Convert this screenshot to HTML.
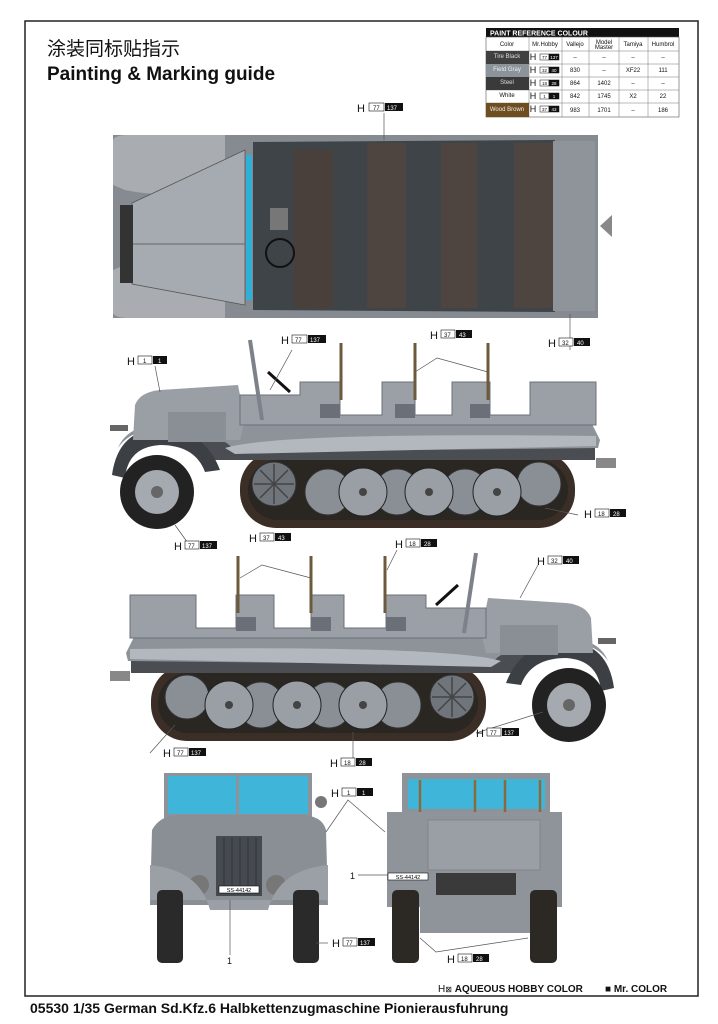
<!DOCTYPE html>
<html><head><meta charset="utf-8"><style>
html,body{margin:0;padding:0;background:#fff;}
body{width:718px;height:1024px;position:relative;overflow:hidden;font-family:"Liberation Sans",Arial,sans-serif;}
svg{position:absolute;left:0;top:0;}
</style></head><body>
<svg width="718" height="1024" viewBox="0 0 718 1024" font-family="Liberation Sans, Arial, sans-serif">
<defs>
<g id="side">
  <!-- track -->
  <rect x="240" y="452" width="335" height="76" rx="36" fill="#3a2e26"/>
  <rect x="248" y="460" width="320" height="60" rx="30" fill="#2a2622"/>
  <!-- dark lower chassis -->
  <rect x="200" y="440" width="395" height="20" fill="#4a4e53"/>
  <!-- front mudguard dark arc -->
  <path d="M112 475 Q118 430 160 428 Q205 430 220 470 L205 472 Q195 445 160 445 Q128 447 125 478 Z" fill="#3c4045"/>
  <!-- body lower / fender -->
  <path d="M118 448 Q125 430 150 425 L240 420 L590 420 L600 440 L598 448 L235 452 Q225 432 160 428 Q130 430 118 448 Z" fill="#8e939a"/>
  <!-- hood -->
  <path d="M133 440 L135 405 Q140 392 160 390 L238 385 L245 420 L240 440 Z" fill="#9a9fa6"/>
  <rect x="168" y="412" width="58" height="30" fill="#8a8f96"/>
  <!-- cab/rear body -->
  <path d="M240 420 L240 395 L300 395 L300 382 L340 382 L340 415 L382 415 L382 382 L415 382 L415 415 L452 415 L452 382 L490 382 L490 415 L530 415 L530 382 L596 382 L596 425 L240 425 Z" fill="#9ba0a7" stroke="#6b7078" stroke-width="1"/>
  <rect x="320" y="404" width="20" height="14" fill="#6b7078"/>
  <rect x="395" y="404" width="20" height="14" fill="#6b7078"/>
  <rect x="470" y="404" width="20" height="14" fill="#6b7078"/>
  <path d="M225 448 Q280 432 596 436 L596 446 L235 454 Z" fill="#b3b8be"/>
  <!-- windshield post, wheel -->
  <line x1="250" y1="340" x2="262" y2="420" stroke="#7d828a" stroke-width="4"/>
  <line x1="268" y1="372" x2="290" y2="392" stroke="#111" stroke-width="3"/>
  <!-- rifles -->
  <line x1="341" y1="343" x2="341" y2="400" stroke="#6d5a3c" stroke-width="3"/>
  <line x1="415" y1="343" x2="415" y2="400" stroke="#6d5a3c" stroke-width="3"/>
  <line x1="488" y1="343" x2="488" y2="400" stroke="#6d5a3c" stroke-width="3"/>
  <!-- tow hitch -->
  <rect x="596" y="458" width="20" height="10" fill="#888"/>
  <rect x="110" y="425" width="18" height="6" fill="#666"/>
  <!-- front wheel -->
  <circle cx="157" cy="492" r="37" fill="#222"/>
  <circle cx="157" cy="492" r="22" fill="#a5aab0"/>
  <circle cx="157" cy="492" r="6" fill="#666"/>
  <!-- road wheels -->
  <circle cx="274" cy="484" r="22" fill="#70757c" stroke="#333"/>
  <g stroke="#444" stroke-width="1.5"><line x1="274" y1="464" x2="274" y2="504"/><line x1="254" y1="484" x2="294" y2="484"/><line x1="260" y1="470" x2="288" y2="498"/><line x1="288" y1="470" x2="260" y2="498"/></g>
  <circle cx="328" cy="492" r="23" fill="#8a8f95" stroke="#333"/>
  <circle cx="397" cy="492" r="23" fill="#8a8f95" stroke="#333"/>
  <circle cx="465" cy="492" r="23" fill="#8a8f95" stroke="#333"/>
  <circle cx="539" cy="484" r="22" fill="#8a8f95" stroke="#333"/>
  <circle cx="363" cy="492" r="24" fill="#9a9fa5" stroke="#222"/>
  <circle cx="429" cy="492" r="24" fill="#9a9fa5" stroke="#222"/>
  <circle cx="497" cy="492" r="24" fill="#9a9fa5" stroke="#222"/>
  <circle cx="363" cy="492" r="4" fill="#444"/>
  <circle cx="429" cy="492" r="4" fill="#444"/>
  <circle cx="497" cy="492" r="4" fill="#444"/>
</g>
</defs>

<rect x="25" y="21" width="673" height="975" fill="none" stroke="#222" stroke-width="1.5"/>

<text x="47" y="55" font-size="19" font-family="Liberation Sans, Noto Sans CJK SC, sans-serif" fill="#111">涂装同标贴指示</text>
<text x="47" y="80" font-size="19" font-weight="bold" fill="#111">Painting &amp; Marking guide</text>

<!-- paint table -->
<g font-size="6" text-anchor="middle" fill="#111">
<rect x="486" y="28" width="193" height="9" fill="#111"/>
<text x="490" y="35.5" font-size="7" font-weight="bold" fill="#fff" text-anchor="start">PAINT  REFERENCE COLOUR</text>
<rect x="486" y="37" width="193" height="80" fill="#fff" stroke="#555" stroke-width="0.6"/>
<g stroke="#777" stroke-width="0.5">
<line x1="529" y1="37" x2="529" y2="117"/><line x1="562" y1="37" x2="562" y2="117"/><line x1="589" y1="37" x2="589" y2="117"/><line x1="619" y1="37" x2="619" y2="117"/><line x1="648" y1="37" x2="648" y2="117"/>
<line x1="486" y1="51" x2="679" y2="51"/><line x1="486" y1="64" x2="679" y2="64"/><line x1="486" y1="77" x2="679" y2="77"/><line x1="486" y1="90" x2="679" y2="90"/><line x1="486" y1="103" x2="679" y2="103"/>
</g>
<rect x="486" y="51" width="43" height="13" fill="#404040"/>
<rect x="486" y="64" width="43" height="13" fill="#8d939b"/>
<rect x="486" y="77" width="43" height="13" fill="#3a3a3a"/>
<rect x="486" y="103" width="43" height="14" fill="#6e4e1e"/>
<text x="507" y="46">Color</text><text x="545" y="46">Mr.Hobby</text><text x="575" y="46">Vallejo</text><text x="604" y="44">Model</text><text x="604" y="49">Master</text><text x="633" y="46">Tamiya</text><text x="663" y="46">Humbrol</text>
<text x="507" y="58" fill="#ddd">Tire Black</text><text x="507" y="71" fill="#eee">Field Gray</text><text x="507" y="84" fill="#ddd">Steel</text><text x="507" y="97">White</text><text x="507" y="111" fill="#eee">Wood Brown</text>
<text x="533" y="60" font-size="9">H</text><text x="533" y="73" font-size="9">H</text><text x="533" y="86" font-size="9">H</text><text x="533" y="99" font-size="9">H</text><text x="533" y="112" font-size="9">H</text>
<g stroke="#111" stroke-width="0.5">
<rect x="540" y="54" width="9" height="6" fill="#fff"/><rect x="549" y="54" width="10" height="6" fill="#111"/>
<rect x="540" y="67" width="9" height="6" fill="#fff"/><rect x="549" y="67" width="10" height="6" fill="#111"/>
<rect x="540" y="80" width="9" height="6" fill="#fff"/><rect x="549" y="80" width="10" height="6" fill="#111"/>
<rect x="540" y="93" width="9" height="6" fill="#fff"/><rect x="549" y="93" width="10" height="6" fill="#111"/>
<rect x="540" y="106" width="9" height="6" fill="#fff"/><rect x="549" y="106" width="10" height="6" fill="#111"/>
</g>
<g font-size="4.5">
<text x="544.5" y="59">77</text><text x="554" y="59" fill="#fff">137</text>
<text x="544.5" y="72">32</text><text x="554" y="72" fill="#fff">40</text>
<text x="544.5" y="85">18</text><text x="554" y="85" fill="#fff">28</text>
<text x="544.5" y="98">1</text><text x="554" y="98" fill="#fff">1</text>
<text x="544.5" y="111">37</text><text x="554" y="111" fill="#fff">43</text>
</g>
<text x="575" y="59">–</text><text x="604" y="59">–</text><text x="633" y="59">–</text><text x="663" y="59">–</text>
<text x="575" y="72">830</text><text x="604" y="72">–</text><text x="633" y="72">XF22</text><text x="663" y="72">111</text>
<text x="575" y="85">864</text><text x="604" y="85">1402</text><text x="633" y="85">–</text><text x="663" y="85">–</text>
<text x="575" y="98">842</text><text x="604" y="98">1745</text><text x="633" y="98">X2</text><text x="663" y="98">22</text>
<text x="575" y="112">983</text><text x="604" y="112">1701</text><text x="633" y="112">–</text><text x="663" y="112">186</text>
</g>

<!-- TOP VIEW -->
<rect x="113" y="135" width="485" height="183" fill="#868b92"/>
<path d="M113 140 Q115 135 130 135 L225 135 L225 185 Q170 200 125 190 L113 185 Z" fill="#a9adb2"/>
<path d="M113 313 Q115 318 130 318 L225 318 L225 268 Q170 254 125 265 L113 270 Z" fill="#a9adb2"/>
<path d="M132 203 L245 150 L245 305 L132 284 Z" fill="#a6abb1" stroke="#555" stroke-width="0.8"/>
<line x1="132" y1="244" x2="245" y2="244" stroke="#666" stroke-width="1"/>
<rect x="120" y="205" width="13" height="78" fill="#333"/>
<rect x="246" y="155" width="6" height="145" fill="#2fb0d8"/>
<path d="M253 142 L555 140 L555 312 L253 310 Z" fill="#3e4448"/>
<rect x="294" y="150" width="39" height="158" fill="#4a403b"/>
<rect x="367" y="143" width="39" height="165" fill="#4e4440"/>
<rect x="441" y="143" width="36" height="165" fill="#4e4440"/>
<rect x="514" y="143" width="39" height="165" fill="#4e4440"/>
<rect x="553" y="141" width="42" height="170" fill="#8f949a"/>
<circle cx="280" cy="253" r="14" fill="none" stroke="#111" stroke-width="2"/>
<rect x="270" y="208" width="18" height="22" fill="#777"/>
<path d="M600 226 L612 215 L612 237 Z" fill="#888"/>

<!-- side views -->
<use href="#side"/>
<use href="#side" transform="translate(726,213) scale(-1,1)"/>

<!-- FRONT VIEW -->
<rect x="164" y="773" width="148" height="55" fill="#8e939a"/>
<rect x="168" y="776" width="68" height="38" fill="#3fb6d9"/>
<rect x="239" y="776" width="69" height="38" fill="#3fb6d9"/>
<path d="M152 830 Q160 815 180 815 L300 815 Q322 815 326 830 L328 905 L150 905 Z" fill="#8a8f96"/>
<rect x="216" y="836" width="46" height="60" fill="#444a4f"/>
<g stroke="#333" stroke-width="1"><line x1="224" y1="838" x2="224" y2="892"/><line x1="232" y1="838" x2="232" y2="892"/><line x1="240" y1="838" x2="240" y2="892"/><line x1="248" y1="838" x2="248" y2="892"/><line x1="256" y1="838" x2="256" y2="892"/></g>
<circle cx="199" cy="885" r="10" fill="#777"/><circle cx="276" cy="885" r="10" fill="#777"/>
<rect x="219" y="886" width="40" height="7" fill="#fff" stroke="#111" stroke-width="0.6"/>
<text x="239" y="892" font-size="5.5" text-anchor="middle">SS-44142</text>
<path d="M150 865 Q200 870 210 910 L268 910 Q278 870 328 865 L328 900 L150 900 Z" fill="#9ba0a6"/>
<rect x="157" y="890" width="26" height="73" rx="5" fill="#2a2a2a"/>
<rect x="293" y="890" width="26" height="73" rx="5" fill="#2a2a2a"/>
<circle cx="321" cy="802" r="6" fill="#777"/>

<!-- REAR VIEW -->
<rect x="402" y="773" width="148" height="40" fill="#8e939a"/>
<rect x="408" y="779" width="137" height="30" fill="#3fb6d9"/>
<g stroke="#8a6a3a" stroke-width="2.5"><line x1="420" y1="780" x2="420" y2="812"/><line x1="475" y1="780" x2="475" y2="812"/><line x1="505" y1="780" x2="505" y2="812"/><line x1="540" y1="780" x2="540" y2="812"/></g>
<rect x="387" y="812" width="175" height="95" fill="#8f949b"/>
<rect x="428" y="820" width="112" height="50" fill="#9a9fa6" stroke="#777" stroke-width="0.6"/>
<rect x="436" y="873" width="80" height="22" fill="#3a3a3a"/>
<rect x="388" y="873" width="40" height="7" fill="#fff" stroke="#111" stroke-width="0.6"/>
<text x="408" y="879" font-size="5.5" text-anchor="middle">SS-44142</text>
<rect x="420" y="905" width="115" height="28" fill="#8f949b"/>
<rect x="392" y="890" width="27" height="73" rx="5" fill="#2c2823"/>
<rect x="530" y="890" width="27" height="73" rx="5" fill="#2c2823"/>

<!-- leader lines -->
<g stroke="#555" stroke-width="0.7" fill="none">
<line x1="384" y1="113" x2="384" y2="140"/>
<line x1="570" y1="350" x2="570" y2="314"/>
<line x1="155" y1="366" x2="160" y2="392"/>
<line x1="292" y1="350" x2="270" y2="390"/>
<polyline points="415,372 437,358 488,372"/>
<line x1="578" y1="515" x2="545" y2="508"/>
<line x1="190" y1="546" x2="175" y2="525"/>
<polyline points="240,578 262,565 311,578"/>
<line x1="397" y1="550" x2="387" y2="570"/>
<line x1="538" y1="565" x2="520" y2="598"/>
<line x1="150" y1="753" x2="175" y2="725"/>
<line x1="353" y1="762" x2="353" y2="732"/>
<line x1="476" y1="733" x2="543" y2="712"/>
<polyline points="326,832 348,800 385,832"/>
<line x1="358" y1="875" x2="388" y2="875"/>
<line x1="230" y1="955" x2="230" y2="900"/>
<line x1="328" y1="943" x2="316" y2="943"/>
<polyline points="420,938 436,952 528,938"/>
</g>

<g font-size="11" fill="#111">
<text x="357" y="112">H</text><rect x="369" y="103" width="15" height="8" fill="#fff" stroke="#111" stroke-width="0.6"/><rect x="385" y="103" width="18" height="8" fill="#111"/>
<text x="373" y="110" font-size="6">77</text><text x="387" y="110" font-size="6" fill="#fff">137</text>

<text x="127" y="365">H</text><rect x="138" y="356" width="14" height="8" fill="#fff" stroke="#111" stroke-width="0.6"/><rect x="153" y="356" width="14" height="8" fill="#111"/>
<text x="143" y="363" font-size="6">1</text><text x="158" y="363" font-size="6" fill="#fff">1</text>

<text x="281" y="344">H</text><rect x="292" y="335" width="15" height="8" fill="#fff" stroke="#111" stroke-width="0.6"/><rect x="308" y="335" width="18" height="8" fill="#111"/>
<text x="295" y="342" font-size="6">77</text><text x="310" y="342" font-size="6" fill="#fff">137</text>

<text x="430" y="339">H</text><rect x="441" y="330" width="14" height="8" fill="#fff" stroke="#111" stroke-width="0.6"/><rect x="456" y="330" width="16" height="8" fill="#111"/>
<text x="444" y="337" font-size="6">37</text><text x="459" y="337" font-size="6" fill="#fff">43</text>

<text x="548" y="347">H</text><rect x="559" y="338" width="14" height="8" fill="#fff" stroke="#111" stroke-width="0.6"/><rect x="574" y="338" width="16" height="8" fill="#111"/>
<text x="562" y="345" font-size="6">32</text><text x="577" y="345" font-size="6" fill="#fff">40</text>

<text x="584" y="518">H</text><rect x="595" y="509" width="14" height="8" fill="#fff" stroke="#111" stroke-width="0.6"/><rect x="610" y="509" width="16" height="8" fill="#111"/>
<text x="598" y="516" font-size="6">18</text><text x="613" y="516" font-size="6" fill="#fff">28</text>

<text x="174" y="550">H</text><rect x="185" y="541" width="14" height="8" fill="#fff" stroke="#111" stroke-width="0.6"/><rect x="200" y="541" width="17" height="8" fill="#111"/>
<text x="188" y="548" font-size="6">77</text><text x="202" y="548" font-size="6" fill="#fff">137</text>

<text x="249" y="542">H</text><rect x="260" y="533" width="14" height="8" fill="#fff" stroke="#111" stroke-width="0.6"/><rect x="275" y="533" width="16" height="8" fill="#111"/>
<text x="263" y="540" font-size="6">37</text><text x="278" y="540" font-size="6" fill="#fff">43</text>

<text x="395" y="548">H</text><rect x="406" y="539" width="14" height="8" fill="#fff" stroke="#111" stroke-width="0.6"/><rect x="421" y="539" width="16" height="8" fill="#111"/>
<text x="409" y="546" font-size="6">18</text><text x="424" y="546" font-size="6" fill="#fff">28</text>

<text x="537" y="565">H</text><rect x="548" y="556" width="14" height="8" fill="#fff" stroke="#111" stroke-width="0.6"/><rect x="563" y="556" width="16" height="8" fill="#111"/>
<text x="551" y="563" font-size="6">32</text><text x="566" y="563" font-size="6" fill="#fff">40</text>

<text x="163" y="757">H</text><rect x="174" y="748" width="14" height="8" fill="#fff" stroke="#111" stroke-width="0.6"/><rect x="189" y="748" width="17" height="8" fill="#111"/>
<text x="177" y="755" font-size="6">77</text><text x="191" y="755" font-size="6" fill="#fff">137</text>

<text x="330" y="767">H</text><rect x="341" y="758" width="14" height="8" fill="#fff" stroke="#111" stroke-width="0.6"/><rect x="356" y="758" width="16" height="8" fill="#111"/>
<text x="344" y="765" font-size="6">18</text><text x="359" y="765" font-size="6" fill="#fff">28</text>

<text x="476" y="737">H</text><rect x="487" y="728" width="14" height="8" fill="#fff" stroke="#111" stroke-width="0.6"/><rect x="502" y="728" width="17" height="8" fill="#111"/>
<text x="490" y="735" font-size="6">77</text><text x="504" y="735" font-size="6" fill="#fff">137</text>

<text x="331" y="797">H</text><rect x="342" y="788" width="14" height="8" fill="#fff" stroke="#111" stroke-width="0.6"/><rect x="357" y="788" width="16" height="8" fill="#111"/>
<text x="347" y="795" font-size="6">1</text><text x="362" y="795" font-size="6" fill="#fff">1</text>

<text x="332" y="947">H</text><rect x="343" y="938" width="14" height="8" fill="#fff" stroke="#111" stroke-width="0.6"/><rect x="358" y="938" width="17" height="8" fill="#111"/>
<text x="346" y="945" font-size="6">77</text><text x="360" y="945" font-size="6" fill="#fff">137</text>

<text x="447" y="963">H</text><rect x="458" y="954" width="14" height="8" fill="#fff" stroke="#111" stroke-width="0.6"/><rect x="473" y="954" width="16" height="8" fill="#111"/>
<text x="461" y="961" font-size="6">18</text><text x="476" y="961" font-size="6" fill="#fff">28</text>

<text x="350" y="879" font-size="9">1</text>
<text x="227" y="964" font-size="9">1</text>
</g>

<text x="438" y="992" font-size="10" fill="#111">H<tspan font-size="8">⊠</tspan> <tspan font-weight="bold">AQUEOUS HOBBY COLOR</tspan></text>
<text x="605" y="992" font-size="10" font-weight="bold" fill="#111">■ Mr. COLOR</text>
<text x="30" y="1013" font-size="14" font-weight="bold" fill="#111">05530 1/35 German Sd.Kfz.6 Halbkettenzugmaschine Pionierausfuhrung</text>
</svg>
</body></html>
